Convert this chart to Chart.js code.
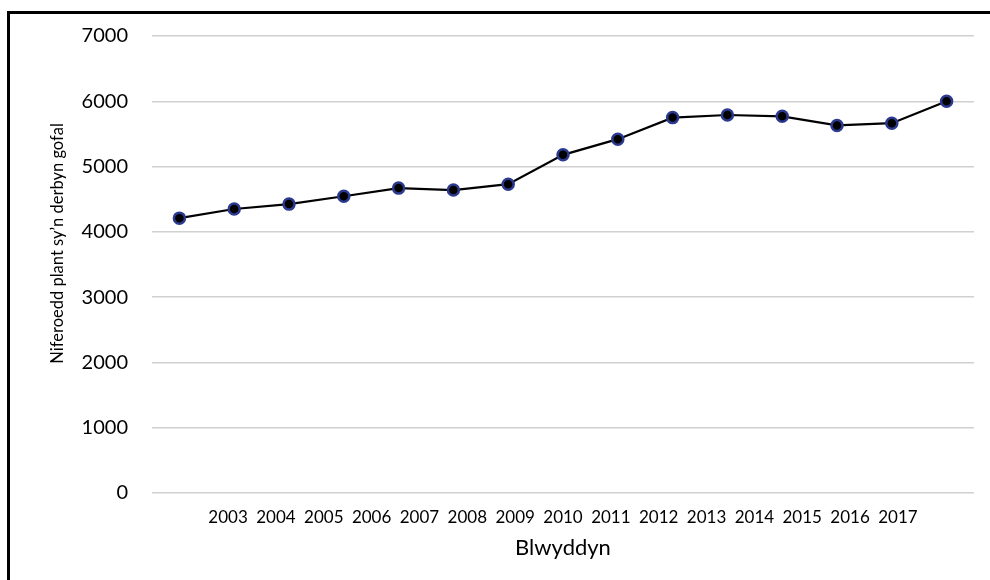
<!DOCTYPE html>
<html>
<head>
<meta charset="utf-8">
<script src="https://cdn.jsdelivr.net/npm/chart.js@4"></script>
<style>
  body { margin: 0; background: #fff; overflow: hidden; }
  #frame {
    position: absolute; left: 7px; top: 11px; width: 1000px; height: 600px;
    border-left: 3px solid #000; border-top: 3px solid #000;
  }
  #wrap { position: absolute; left: 0; top: 0; width: 990px; height: 580px; }
</style>
</head>
<body>
<div id="frame"></div>
<div id="wrap"><canvas id="chart"></canvas></div>
<script>
// Chart data
var years = ['2003', '2004', '2005', '2006', '2007', '2008', '2009', '2010',
             '2011', '2012', '2013', '2014', '2015', '2016', '2017'];
var children = [4210, 4350, 4425, 4545, 4670, 4640, 4730, 5180,
                5420, 5750, 5790, 5770, 5630, 5665, 6000];
var yTicks = [0, 1000, 2000, 3000, 4000, 5000, 6000, 7000];

var fontName = 'Lato, "Noto Sans", sans-serif';
var firstYear = parseInt(years[0]);
var lastYear = parseInt(years[years.length - 1]);

var ctx = document.getElementById('chart').getContext('2d');

var chart = new Chart(ctx, {
  type: 'line',
  data: {
    labels: years,
    datasets: [{
      label: 'Niferoedd',
      data: children,
      borderColor: '#000',
      borderWidth: 2.2,
      pointBackgroundColor: '#000',
      pointBorderColor: '#2b3a8f',
      pointBorderWidth: 2.5,
      pointRadius: 5.5,
      tension: 0
    }]
  },
  options: {
    responsive: true,
    maintainAspectRatio: false,
    animation: false,
    layout: { padding: { left: 48, right: 16, top: 30, bottom: 15 } },
    plugins: {
      legend: { display: false },
      tooltip: { enabled: false }
    },
    scales: {
      x: {
        type: 'category',
        offset: true,
        display: false
      },
      // label axis, years are spaced a bit tighter than the points
      x2: {
        type: 'linear',
        position: 'bottom',
        min: firstYear - 1.59,
        max: lastYear + 1.59,
        grid: { display: false },
        border: { display: false },
        afterBuildTicks: function(axis) {
          axis.ticks = years.map(function(y) { return { value: parseInt(y) }; });
        },
        afterFit: function(axis) { axis.height = 72; },
        ticks: {
          color: '#000',
          font: { family: fontName, size: 17 },
          padding: 6,
          maxRotation: 0,
          callback: function(v) { return String(v); }
        },
        title: {
          display: true,
          text: 'Blwyddyn',
          color: '#000',
          font: { family: fontName, size: 22 },
          padding: { top: 10, bottom: 4 }
        }
      },
      y: {
        min: 0,
        max: 7000,
        afterBuildTicks: function(axis) {
          axis.ticks = yTicks.map(function(v) { return { value: v }; });
        },
        afterFit: function(axis) { axis.width = 104; },
        grid: { color: '#d0d0d0', lineWidth: 1.5, drawTicks: false },
        border: { display: false },
        ticks: {
          color: '#000',
          font: { family: fontName, size: 20 },
          padding: 24,
          callback: function(v) { return String(v); }
        },
        title: {
          display: true,
          text: '          Niferoedd plant sy\u2019n derbyn gofal',
          color: '#000',
          font: { family: fontName, size: 16.5 },
          padding: { top: 0, bottom: 0 }
        }
      }
    }
  }
});
</script>
</body>
</html>
